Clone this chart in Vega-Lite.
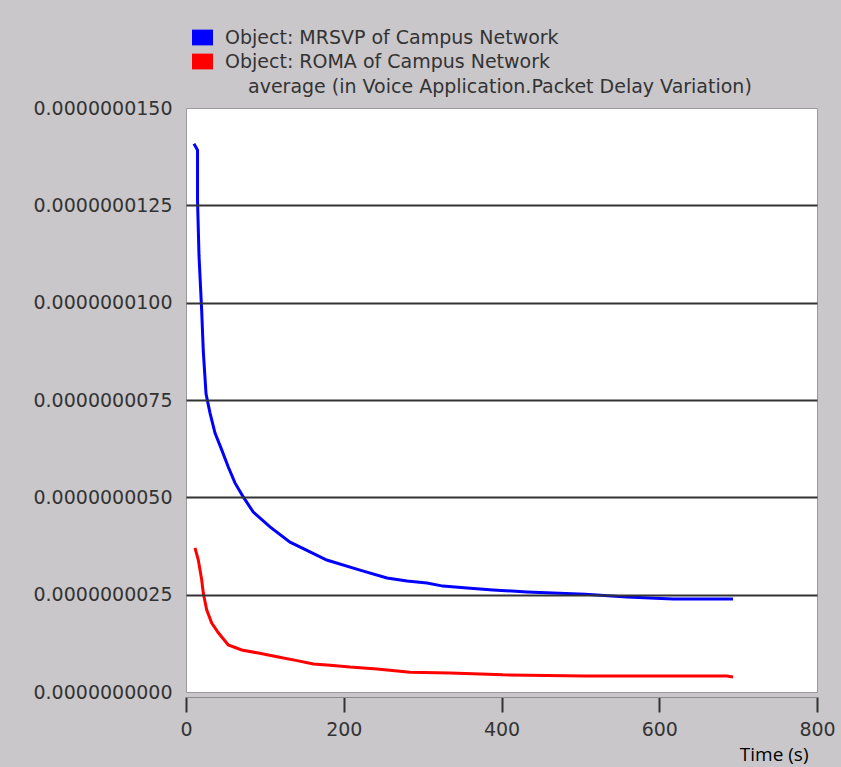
{
  "$schema": "https://vega.github.io/schema/vega-lite/v6.json",
  "autosize": "none",
  "width": 631,
  "height": 584,
  "padding": {"left": 186, "top": 108, "right": 24, "bottom": 75},
  "background": "#c9c7ca",
  "config": {
    "view": {"fill": "#ffffff", "stroke": "#9a9a9a", "strokeWidth": 1},
    "font": "DejaVu Sans"
  },
  "data": {
    "values": [
      {"s": "Object: MRSVP of Campus Network", "t": 10.1, "v": 1.408e-8},
      {"s": "Object: MRSVP of Campus Network", "t": 14.6, "v": 1.392e-8},
      {"s": "Object: MRSVP of Campus Network", "t": 14.6, "v": 1.264e-8},
      {"s": "Object: MRSVP of Campus Network", "t": 16.5, "v": 1.120e-8},
      {"s": "Object: MRSVP of Campus Network", "t": 19.9, "v": 9.79e-9},
      {"s": "Object: MRSVP of Campus Network", "t": 21.9, "v": 8.76e-9},
      {"s": "Object: MRSVP of Campus Network", "t": 25.4, "v": 7.66e-9},
      {"s": "Object: MRSVP of Campus Network", "t": 30.4, "v": 7.17e-9},
      {"s": "Object: MRSVP of Campus Network", "t": 36.8, "v": 6.65e-9},
      {"s": "Object: MRSVP of Campus Network", "t": 45.3, "v": 6.22e-9},
      {"s": "Object: MRSVP of Campus Network", "t": 53.6, "v": 5.78e-9},
      {"s": "Object: MRSVP of Campus Network", "t": 62.1, "v": 5.37e-9},
      {"s": "Object: MRSVP of Campus Network", "t": 72.6, "v": 5.01e-9},
      {"s": "Object: MRSVP of Campus Network", "t": 85.3, "v": 4.62e-9},
      {"s": "Object: MRSVP of Campus Network", "t": 106.5, "v": 4.24e-9},
      {"s": "Object: MRSVP of Campus Network", "t": 131.9, "v": 3.85e-9},
      {"s": "Object: MRSVP of Campus Network", "t": 157.2, "v": 3.60e-9},
      {"s": "Object: MRSVP of Campus Network", "t": 178.4, "v": 3.39e-9},
      {"s": "Object: MRSVP of Campus Network", "t": 220.6, "v": 3.13e-9},
      {"s": "Object: MRSVP of Campus Network", "t": 254.8, "v": 2.93e-9},
      {"s": "Object: MRSVP of Campus Network", "t": 280.2, "v": 2.85e-9},
      {"s": "Object: MRSVP of Campus Network", "t": 305.5, "v": 2.80e-9},
      {"s": "Object: MRSVP of Campus Network", "t": 325.8, "v": 2.72e-9},
      {"s": "Object: MRSVP of Campus Network", "t": 356.3, "v": 2.67e-9},
      {"s": "Object: MRSVP of Campus Network", "t": 389.2, "v": 2.62e-9},
      {"s": "Object: MRSVP of Campus Network", "t": 432.3, "v": 2.57e-9},
      {"s": "Object: MRSVP of Campus Network", "t": 465.3, "v": 2.54e-9},
      {"s": "Object: MRSVP of Campus Network", "t": 505.9, "v": 2.51e-9},
      {"s": "Object: MRSVP of Campus Network", "t": 559.1, "v": 2.44e-9},
      {"s": "Object: MRSVP of Campus Network", "t": 617.4, "v": 2.39e-9},
      {"s": "Object: MRSVP of Campus Network", "t": 693.5, "v": 2.39e-9},
      {"s": "Object: ROMA of Campus Network", "t": 11.4, "v": 3.70e-9},
      {"s": "Object: ROMA of Campus Network", "t": 15.6, "v": 3.39e-9},
      {"s": "Object: ROMA of Campus Network", "t": 19.9, "v": 2.88e-9},
      {"s": "Object: ROMA of Campus Network", "t": 21.9, "v": 2.54e-9},
      {"s": "Object: ROMA of Campus Network", "t": 26.2, "v": 2.11e-9},
      {"s": "Object: ROMA of Campus Network", "t": 32.6, "v": 1.77e-9},
      {"s": "Object: ROMA of Campus Network", "t": 41.0, "v": 1.52e-9},
      {"s": "Object: ROMA of Campus Network", "t": 53.6, "v": 1.21e-9},
      {"s": "Object: ROMA of Campus Network", "t": 70.6, "v": 1.08e-9},
      {"s": "Object: ROMA of Campus Network", "t": 91.7, "v": 1.00e-9},
      {"s": "Object: ROMA of Campus Network", "t": 117.0, "v": 9.0e-10},
      {"s": "Object: ROMA of Campus Network", "t": 142.4, "v": 8.0e-10},
      {"s": "Object: ROMA of Campus Network", "t": 161.4, "v": 7.2e-10},
      {"s": "Object: ROMA of Campus Network", "t": 182.6, "v": 6.9e-10},
      {"s": "Object: ROMA of Campus Network", "t": 207.9, "v": 6.4e-10},
      {"s": "Object: ROMA of Campus Network", "t": 242.2, "v": 5.9e-10},
      {"s": "Object: ROMA of Campus Network", "t": 284.0, "v": 5.1e-10},
      {"s": "Object: ROMA of Campus Network", "t": 334.7, "v": 4.9e-10},
      {"s": "Object: ROMA of Campus Network", "t": 401.9, "v": 4.4e-10},
      {"s": "Object: ROMA of Campus Network", "t": 505.9, "v": 4.1e-10},
      {"s": "Object: ROMA of Campus Network", "t": 685.9, "v": 4.1e-10},
      {"s": "Object: ROMA of Campus Network", "t": 693.5, "v": 3.85e-10}
    ]
  },
  "mark": {"type": "line", "strokeWidth": 3, "interpolate": "linear"},
  "encoding": {
    "x": {
      "field": "t",
      "type": "quantitative",
      "scale": {"domain": [0, 800], "nice": false, "zero": false},
      "axis": {
        "title": "Time (s)",
        "values": [0, 200, 400, 600, 800],
        "offset": 5,
        "tickSize": 15,
        "tickWidth": 2,
        "tickColor": "#333333",
        "domainColor": "#8a8a8a",
        "domainWidth": 1,
        "labelFont": "DejaVu Sans",
        "labelFontSize": 19,
        "labelColor": "#333333",
        "labelPadding": 8,
        "labelFlush": false,
        "grid": false,
        "titleFont": "Open Sans",
        "titleFontSize": 19,
        "titleFontWeight": "normal",
        "titleColor": "#000000",
        "titleAlign": "right",
        "titleBaseline": "alphabetic",
        "titleX": 622,
        "titleY": 63
      }
    },
    "y": {
      "field": "v",
      "type": "quantitative",
      "scale": {"domain": [0, 1.5e-8], "nice": false},
      "axis": {
        "title": null,
        "values": [0, 2.5e-9, 5e-9, 7.5e-9, 1e-8, 1.25e-8, 1.5e-8],
        "format": ".10f",
        "ticks": false,
        "tickSize": 0,
        "domain": false,
        "labelFont": "DejaVu Sans",
        "labelFontSize": 19,
        "labelColor": "#333333",
        "labelPadding": 14,
        "labelBaseline": "middle",
        "grid": true,
        "gridColor": {"condition": {"test": "datum.value > 0 && datum.value < 1.4e-8", "value": "#333333"}, "value": "transparent"},
        "gridWidth": 2,
        "zindex": 1
      }
    },
    "color": {
      "field": "s",
      "type": "nominal",
      "scale": {
        "domain": ["Object: MRSVP of Campus Network", "Object: ROMA of Campus Network"],
        "range": ["#0000ff", "#ff0000"]
      },
      "legend": {
        "title": "average (in Voice Application.Packet Delay Variation)",
        "titleOrient": "bottom",
        "titleAnchor": "start",
        "titlePadding": 6,
        "titleFont": "DejaVu Sans",
        "titleFontSize": 19,
        "titleFontWeight": "normal",
        "titleColor": "#333333",
        "titleLimit": 700,
        "orient": "none",
        "legendX": 6,
        "legendY": -81,
        "direction": "vertical",
        "padding": 0,
        "symbolType": "M-1,-0.75H1V0.75H-1Z",
        "symbolSize": 441,
        "symbolStrokeWidth": 0,
        "labelFont": "DejaVu Sans",
        "labelFontSize": 19,
        "labelColor": "#333333",
        "labelOffset": 12,
        "labelLimit": 600,
        "rowPadding": 3,
        "encode": {
          "symbols": {"update": {"fill": {"scale": "color", "field": "value"}, "strokeWidth": {"value": 0}}},
          "title": {"update": {"dx": {"value": 56}}}
        }
      }
    }
  }
}
